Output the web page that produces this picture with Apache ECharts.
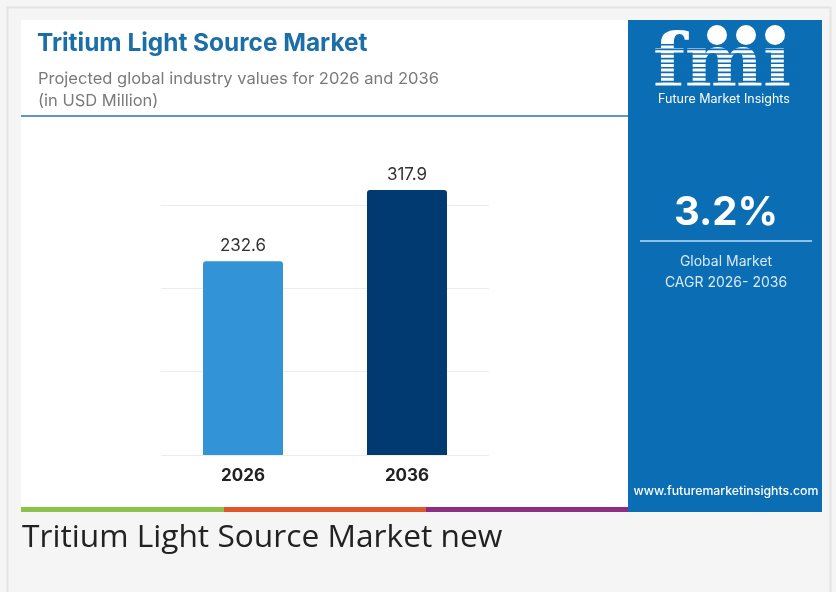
<!DOCTYPE html>
<html>
<head>
<meta charset="utf-8">
<script src="https://cdn.jsdelivr.net/npm/echarts@6/dist/echarts.min.js"></script>
<style>
html,body{margin:0;padding:0;background:#f5f5f5;}
#c{width:836px;height:592px;}
</style>
</head>
<body>
<div id="c"></div>
<script>
const categories = ['2026', '2036'];
const values = [232.6, 317.9];
const barColors = ['#3293d6', '#003a70'];
const yTicks = [0, 100, 200, 300];
const cagr = '3.2%';

const chart = echarts.init(document.getElementById('c'), null, {renderer: 'canvas'});

const stripes = [];
for (let i = 0; i < 12; i++) {
  stripes.push({type: 'rect', shape: {x: 650, y: 44 + i * 4.6, width: 150, height: 1.6}, style: {fill: '#0b6db3'}, z: 12});
}

chart.setOption({
  backgroundColor: '#f5f5f5',
  animation: false,
  grid: {left: 161, width: 328, top: 205, height: 250, containLabel: false},
  xAxis: {
    type: 'category',
    data: categories,
    axisLine: {show: false},
    axisTick: {show: false},
    axisLabel: {fontFamily: 'Inter', fontWeight: 'bold', fontSize: 17, color: '#222', margin: 12}
  },
  yAxis: {
    type: 'value',
    min: yTicks[0],
    max: yTicks[yTicks.length - 1],
    interval: 100,
    axisLabel: {show: false},
    axisLine: {show: false},
    axisTick: {show: false},
    splitLine: {lineStyle: {color: '#ececec', width: 1}}
  },
  series: [{
    type: 'bar',
    clip: false,
    barWidth: 80,
    data: values.map((v, i) => ({value: v, itemStyle: {color: barColors[i], borderRadius: [3, 3, 0, 0]}})),
    label: {show: true, position: 'top', distance: 7, fontFamily: 'Inter', fontSize: 17, color: '#333'},
    z: 5
  }],
  graphic: [
    {type: 'rect', shape: {x: 7.5, y: 7.5, width: 823, height: 600}, style: {fill: '#f5f5f5', stroke: '#e3e3e3', lineWidth: 2}, z: -10, silent: true},
    {type: 'rect', shape: {x: 21, y: 20, width: 607, height: 492}, style: {fill: '#ffffff'}, z: -9, silent: true},
    {type: 'text', x: 37, y: 44, style: {text: 'Tritium Light Source Market', font: 'bold 24.4px Inter', fill: '#1b6ea8', verticalAlign: 'middle'}, z: 10},
    {type: 'text', x: 38, y: 79, style: {text: 'Projected global industry values for 2026 and 2036', font: '16.5px Inter', fill: '#7a7a7a', verticalAlign: 'middle'}, z: 10},
    {type: 'text', x: 38, y: 101, style: {text: '(in USD Million)', font: '16.5px Inter', fill: '#7a7a7a', verticalAlign: 'middle'}, z: 10},
    {type: 'rect', shape: {x: 21, y: 115, width: 607, height: 2}, style: {fill: '#5d98bf'}, z: 10},
    {type: 'rect', shape: {x: 21, y: 507, width: 203, height: 5}, style: {fill: '#8bc34a'}, z: 10},
    {type: 'rect', shape: {x: 224, y: 507, width: 202, height: 5}, style: {fill: '#e2562b'}, z: 10},
    {type: 'rect', shape: {x: 426, y: 507, width: 202, height: 5}, style: {fill: '#8e2d82'}, z: 10},
    {type: 'rect', shape: {x: 628, y: 20, width: 194, height: 492}, style: {fill: '#0b6db3'}, z: 10},
    {type: 'text', x: 722, y: 68, style: {text: 'fmi', font: 'bold 74px "DejaVu Serif"', fill: '#ffffff', align: 'center', verticalAlign: 'middle'}, z: 11},
    ...stripes,
    {type: 'circle', shape: {cx: 717, cy: 35, r: 10}, style: {fill: '#ffffff'}, z: 13},
    {type: 'circle', shape: {cx: 746, cy: 35, r: 10}, style: {fill: '#ffffff'}, z: 13},
    {type: 'circle', shape: {cx: 775, cy: 35, r: 10}, style: {fill: '#ffffff'}, z: 13},
    {type: 'text', x: 724, y: 99, style: {text: 'Future Market Insights', font: '12.5px Inter', fill: '#ffffff', align: 'center', verticalAlign: 'middle'}, z: 13},
    {type: 'text', x: 726, y: 213, style: {text: cagr, font: 'bold 40px Inter', fill: '#ffffff', align: 'center', verticalAlign: 'middle'}, z: 13},
    {type: 'rect', shape: {x: 640, y: 240, width: 172, height: 2}, style: {fill: '#8ec1e6'}, z: 13},
    {type: 'text', x: 726, y: 262, style: {text: 'Global Market', font: '14px Inter', fill: '#d8eaf7', align: 'center', verticalAlign: 'middle'}, z: 13},
    {type: 'text', x: 726, y: 283, style: {text: 'CAGR 2026- 2036', font: '14px Inter', fill: '#d8eaf7', align: 'center', verticalAlign: 'middle'}, z: 13},
    {type: 'text', x: 726, y: 491, style: {text: 'www.futuremarketinsights.com', font: '500 12.3px Inter', fill: '#ffffff', align: 'center', verticalAlign: 'middle'}, z: 13},
    {type: 'text', x: 22, y: 538, style: {text: 'Tritium Light Source Market new', font: '31.7px "Open Sans"', fill: '#222222', verticalAlign: 'middle'}, z: 13}
  ]
});
</script>
</body>
</html>
